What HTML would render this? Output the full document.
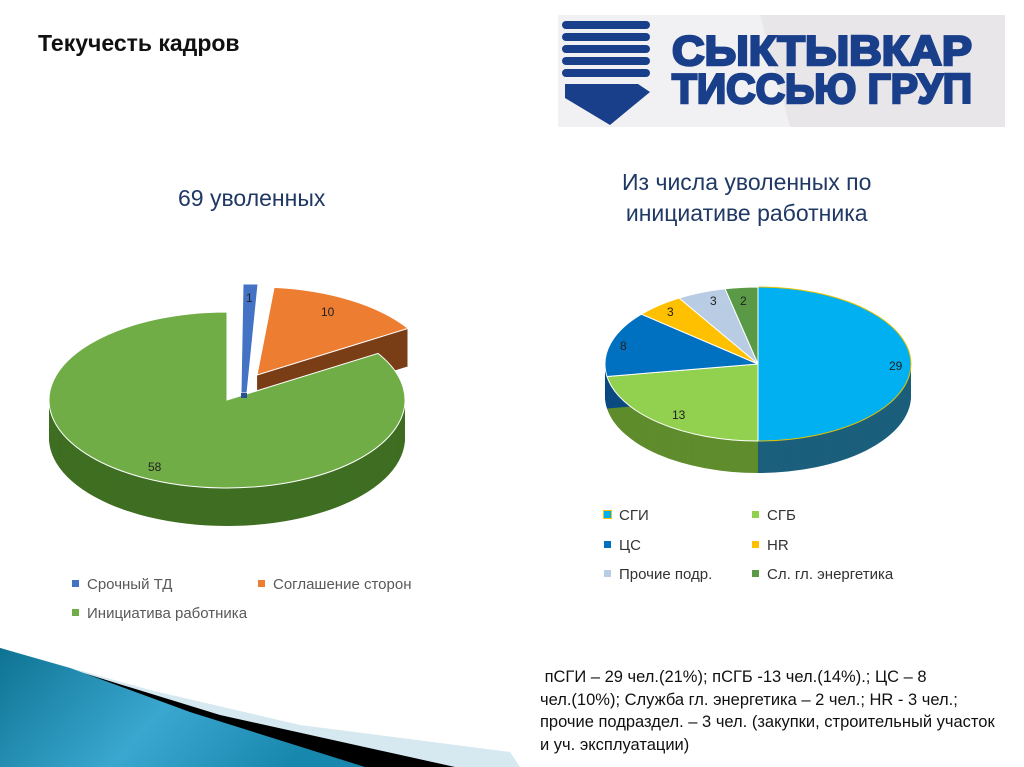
<!DOCTYPE html>
<html><head><meta charset="utf-8"><style>
body{margin:0;width:1024px;height:767px;background:#fff;overflow:hidden;font-family:"Liberation Sans",sans-serif;position:relative}
.t{position:absolute;white-space:nowrap}
.sq{display:inline-block;width:7px;height:7px;margin-right:8px;vertical-align:2px}
</style></head><body>
<svg id="s" width="1024" height="767" style="position:absolute;left:0;top:0">
<defs>
<linearGradient id="sw" x1="0" y1="0" x2="1" y2="0.3"><stop offset="0" stop-color="#0e7393"/><stop offset="0.55" stop-color="#3aa7cf"/><stop offset="1" stop-color="#1887ad"/></linearGradient>
</defs>
<rect x="558" y="15" width="447" height="112" fill="#f1f1f3"/>
<polygon points="760,15 1005,15 1005,127 790,127" fill="#e9e6ea"/>
<polygon points="0,648 150,690 300,725 510,752 520,767 0,767" fill="#d6e9f1"/>
<polygon points="0,648 90,675 220,715 455,767 0,767" fill="#000"/>
<polygon points="0,648 70,668 190,712 365,767 0,767" fill="url(#sw)"/>
<g fill="#1a3f8a">
<rect x="562" y="21" width="88" height="8" rx="4"/>
<rect x="562" y="33" width="88" height="8" rx="4"/>
<rect x="562" y="45" width="88" height="8" rx="4"/>
<rect x="562" y="57" width="88" height="8" rx="4"/>
<rect x="562" y="69" width="88" height="8" rx="4"/>
<polygon points="565,84 638,84 650,92 610,125 565,98"/>
</g>
<g font-family="Liberation Sans" font-weight="bold" font-size="42" fill="#1a3f8a" stroke="#1a3f8a" stroke-width="2.5">
<text x="672" y="65" textLength="300" lengthAdjust="spacingAndGlyphs">СЫКТЫВКАР</text>
<text x="672" y="103" textLength="300" lengthAdjust="spacingAndGlyphs">ТИССЬЮ ГРУП</text>
</g>
<g id="pies"></g>
<polygon points="243,284 258,284 247,393 241,393" fill="#4472c4" stroke="#fff" stroke-width="1"/>
<polygon points="241,393 247,393 247,398 241,398" fill="#2a4f93"/>
<g font-family="Liberation Sans" font-size="12" fill="#222">
<text x="246" y="302">1</text><text x="321" y="316">10</text><text x="148" y="471">58</text>
<text x="889" y="370">29</text><text x="672" y="419">13</text><text x="620" y="350">8</text>
<text x="667" y="316">3</text><text x="710" y="305">3</text><text x="740" y="305">2</text>
</g>
</svg>
<div class="t" style="left:38px;top:30px;font-size:23px;font-weight:bold;color:#111">Текучесть кадров</div>
<div class="t" style="left:178px;top:185px;font-size:23px;color:#1f3864">69 уволенных</div>
<div class="t" style="left:622px;top:167px;font-size:23px;color:#1f3864;text-align:center;line-height:31px">Из числа уволенных по<br>инициативе работника</div>
<div class="t" style="left:72px;top:576px;font-size:15px;color:#595959"><span class="sq" style="background:#4472c4"></span>Срочный ТД</div>
<div class="t" style="left:258px;top:576px;font-size:15px;color:#595959"><span class="sq" style="background:#ed7d31"></span>Соглашение сторон</div>
<div class="t" style="left:72px;top:605px;font-size:15px;color:#595959"><span class="sq" style="background:#70ad47"></span>Инициатива работника</div>
<div class="t" style="left:604px;top:507px;font-size:15px;color:#333"><span class="sq" style="background:#00b0f0;outline:1px solid #ffc000"></span>СГИ</div>
<div class="t" style="left:752px;top:507px;font-size:15px;color:#333"><span class="sq" style="background:#92d050"></span>СГБ</div>
<div class="t" style="left:604px;top:537px;font-size:15px;color:#333"><span class="sq" style="background:#0070c0"></span>ЦС</div>
<div class="t" style="left:752px;top:537px;font-size:15px;color:#333"><span class="sq" style="background:#ffc000"></span>HR</div>
<div class="t" style="left:604px;top:566px;font-size:15px;color:#333"><span class="sq" style="background:#b8cce4"></span>Прочие подр.</div>
<div class="t" style="left:752px;top:566px;font-size:15px;color:#333"><span class="sq" style="background:#5a9a46"></span>Сл. гл. энергетика</div>
<div class="t" style="left:540px;top:666px;font-size:16.5px;color:#111;line-height:22.5px">&nbsp;пСГИ – 29 чел.(21%); пСГБ -13 чел.(14%).; ЦС – 8<br>чел.(10%); Служба гл. энергетика – 2 чел.; HR - 3 чел.;<br>прочие подраздел. – 3 чел. (закупки, строительный участок<br>и уч. эксплуатации)</div>
<script>
var g=document.getElementById('pies'),NS='http://www.w3.org/2000/svg';
function sec(cx,cy,rx,ry,a,b){function p(t){t=t*Math.PI/180;return (cx+rx*Math.sin(t)).toFixed(1)+','+(cy-ry*Math.cos(t)).toFixed(1)}
var large=(b-a)>180?1:0;return 'M'+cx+','+cy+' L'+p(a)+' A'+rx+','+ry+' 0 '+large+' 1 '+p(b)+' Z';}
function pie(cx,cy,rx,ry,d,sl){
 sl.forEach(function(s){var ox=s.ox||0,oy=s.oy||0;
  for(var k=d;k>0;k--){var e=document.createElementNS(NS,'path');e.setAttribute('d',sec(cx+ox,cy+oy+k,rx,ry,s.a,s.b));e.setAttribute('fill',s.side);g.appendChild(e);}});
 sl.forEach(function(s){var ox=s.ox||0,oy=s.oy||0;var e=document.createElementNS(NS,'path');e.setAttribute('d',sec(cx+ox,cy+oy,rx,ry,s.a,s.b));e.setAttribute('fill',s.top);e.setAttribute('stroke',s.st||'#fff');e.setAttribute('stroke-width','1');g.appendChild(e);});
}
pie(227,400,178,88,38,[
 {a:58,b:360,top:'#70ad47',side:'#3f6e22'},
 {a:5.5,b:58,top:'#ed7d31',side:'#7a3e17',ox:30,oy:-25}
]);
var t=0,R=[];
[[29,'#00b0f0','#1b5f7c','#e6c200'],[13,'#92d050','#5f8c2c'],[8,'#0070c0','#0a4a80'],[3,'#ffc000','#b08000'],[3,'#b8cce4','#8090a8'],[2,'#5a9a46','#3a6a2a']].forEach(function(r){var a=t;t+=r[0]*360/58;R.push({a:a,b:t,top:r[1],side:r[2],st:r[3]||'#fff'});});
pie(758,364,153,77,32,R);
</script>
</body></html>
